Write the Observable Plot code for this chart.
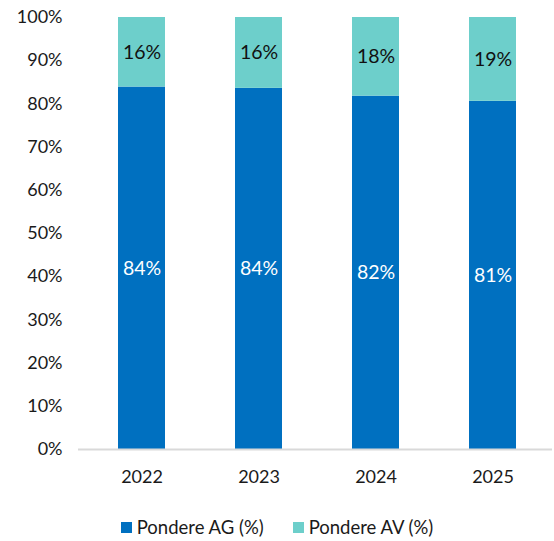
<!DOCTYPE html>
<html>
<head>
<meta charset="utf-8">
<script src="https://cdn.jsdelivr.net/npm/d3@7"></script>
<script src="https://cdn.jsdelivr.net/npm/@observablehq/plot@0.6"></script>
<style>
  html, body { margin: 0; padding: 0; background: #fff; }
  #chart { width: 554px; font-family: Lato, "Open Sans", sans-serif; }
  .legend { display: flex; justify-content: center; align-items: center; margin-top: 16px; font-size: 18.5px; color: #1a1a1a; font-family: Lato, sans-serif; }
  .legend .item { display: flex; align-items: center; }
  .legend .item + .item { margin-left: 29px; }
  .legend .sw { width: 11px; height: 11px; margin-right: 5px; }
</style>
</head>
<body>
<div id="chart"></div>
<script>
const years = ["2022", "2023", "2024", "2025"];
const seriesNames = ["Pondere AG (%)", "Pondere AV (%)"];
const agValues = [83.9, 83.6, 81.8, 80.6];
const avValues = [16.1, 16.4, 18.2, 19.4];
const colors = ["#0070C0", "#6DCFCB"];
const yTicks = [0, 10, 20, 30, 40, 50, 60, 70, 80, 90, 100];

const data = [];
years.forEach((y, i) => data.push({year: y, series: seriesNames[0], value: agValues[i]}));
years.forEach((y, i) => data.push({year: y, series: seriesNames[1], value: avValues[i]}));

const plot = Plot.plot({
  width: 554,
  height: 500,
  marginLeft: 82,
  marginRight: 2,
  marginTop: 17,
  marginBottom: 51,
  style: {fontFamily: "Lato, 'Open Sans', sans-serif", fontSize: "18px", color: "#1a1a1a", background: "#fff"},
  x: {domain: years, paddingInner: 0.6, paddingOuter: 0.3, label: null, tickSize: 0, tickPadding: 21},
  y: {domain: [0, 100], ticks: yTicks, tickFormat: d => d + "%", label: null, tickSize: 0, tickPadding: 20},
  color: {domain: seriesNames, range: colors},
  marks: [
    Plot.barY(data, {x: "year", y: "value", fill: "series"}),
    Plot.ruleY([0], {stroke: "#d9d9d9", strokeWidth: 2, insetLeft: -4}),
    Plot.text(data, Plot.stackY({x: "year", y: "value", z: "series",
      text: d => d.series === seriesNames[0] ? Math.round(d.value) + "%" : null,
      fill: "white", fontSize: 19.5})),
    Plot.text(data, Plot.stackY({x: "year", y: "value", z: "series",
      text: d => d.series === seriesNames[1] ? Math.round(d.value) + "%" : null,
      fill: "#111", fontSize: 19.5}))
  ]
});
document.getElementById("chart").appendChild(plot);

const legend = document.createElement("div");
legend.className = "legend";
seriesNames.forEach((name, i) => {
  const item = document.createElement("div");
  item.className = "item";
  const sw = document.createElement("span");
  sw.className = "sw";
  sw.style.background = colors[i];
  const t = document.createElement("span");
  t.textContent = name;
  item.appendChild(sw);
  item.appendChild(t);
  legend.appendChild(item);
});
document.getElementById("chart").appendChild(legend);
</script>
</body>
</html>
